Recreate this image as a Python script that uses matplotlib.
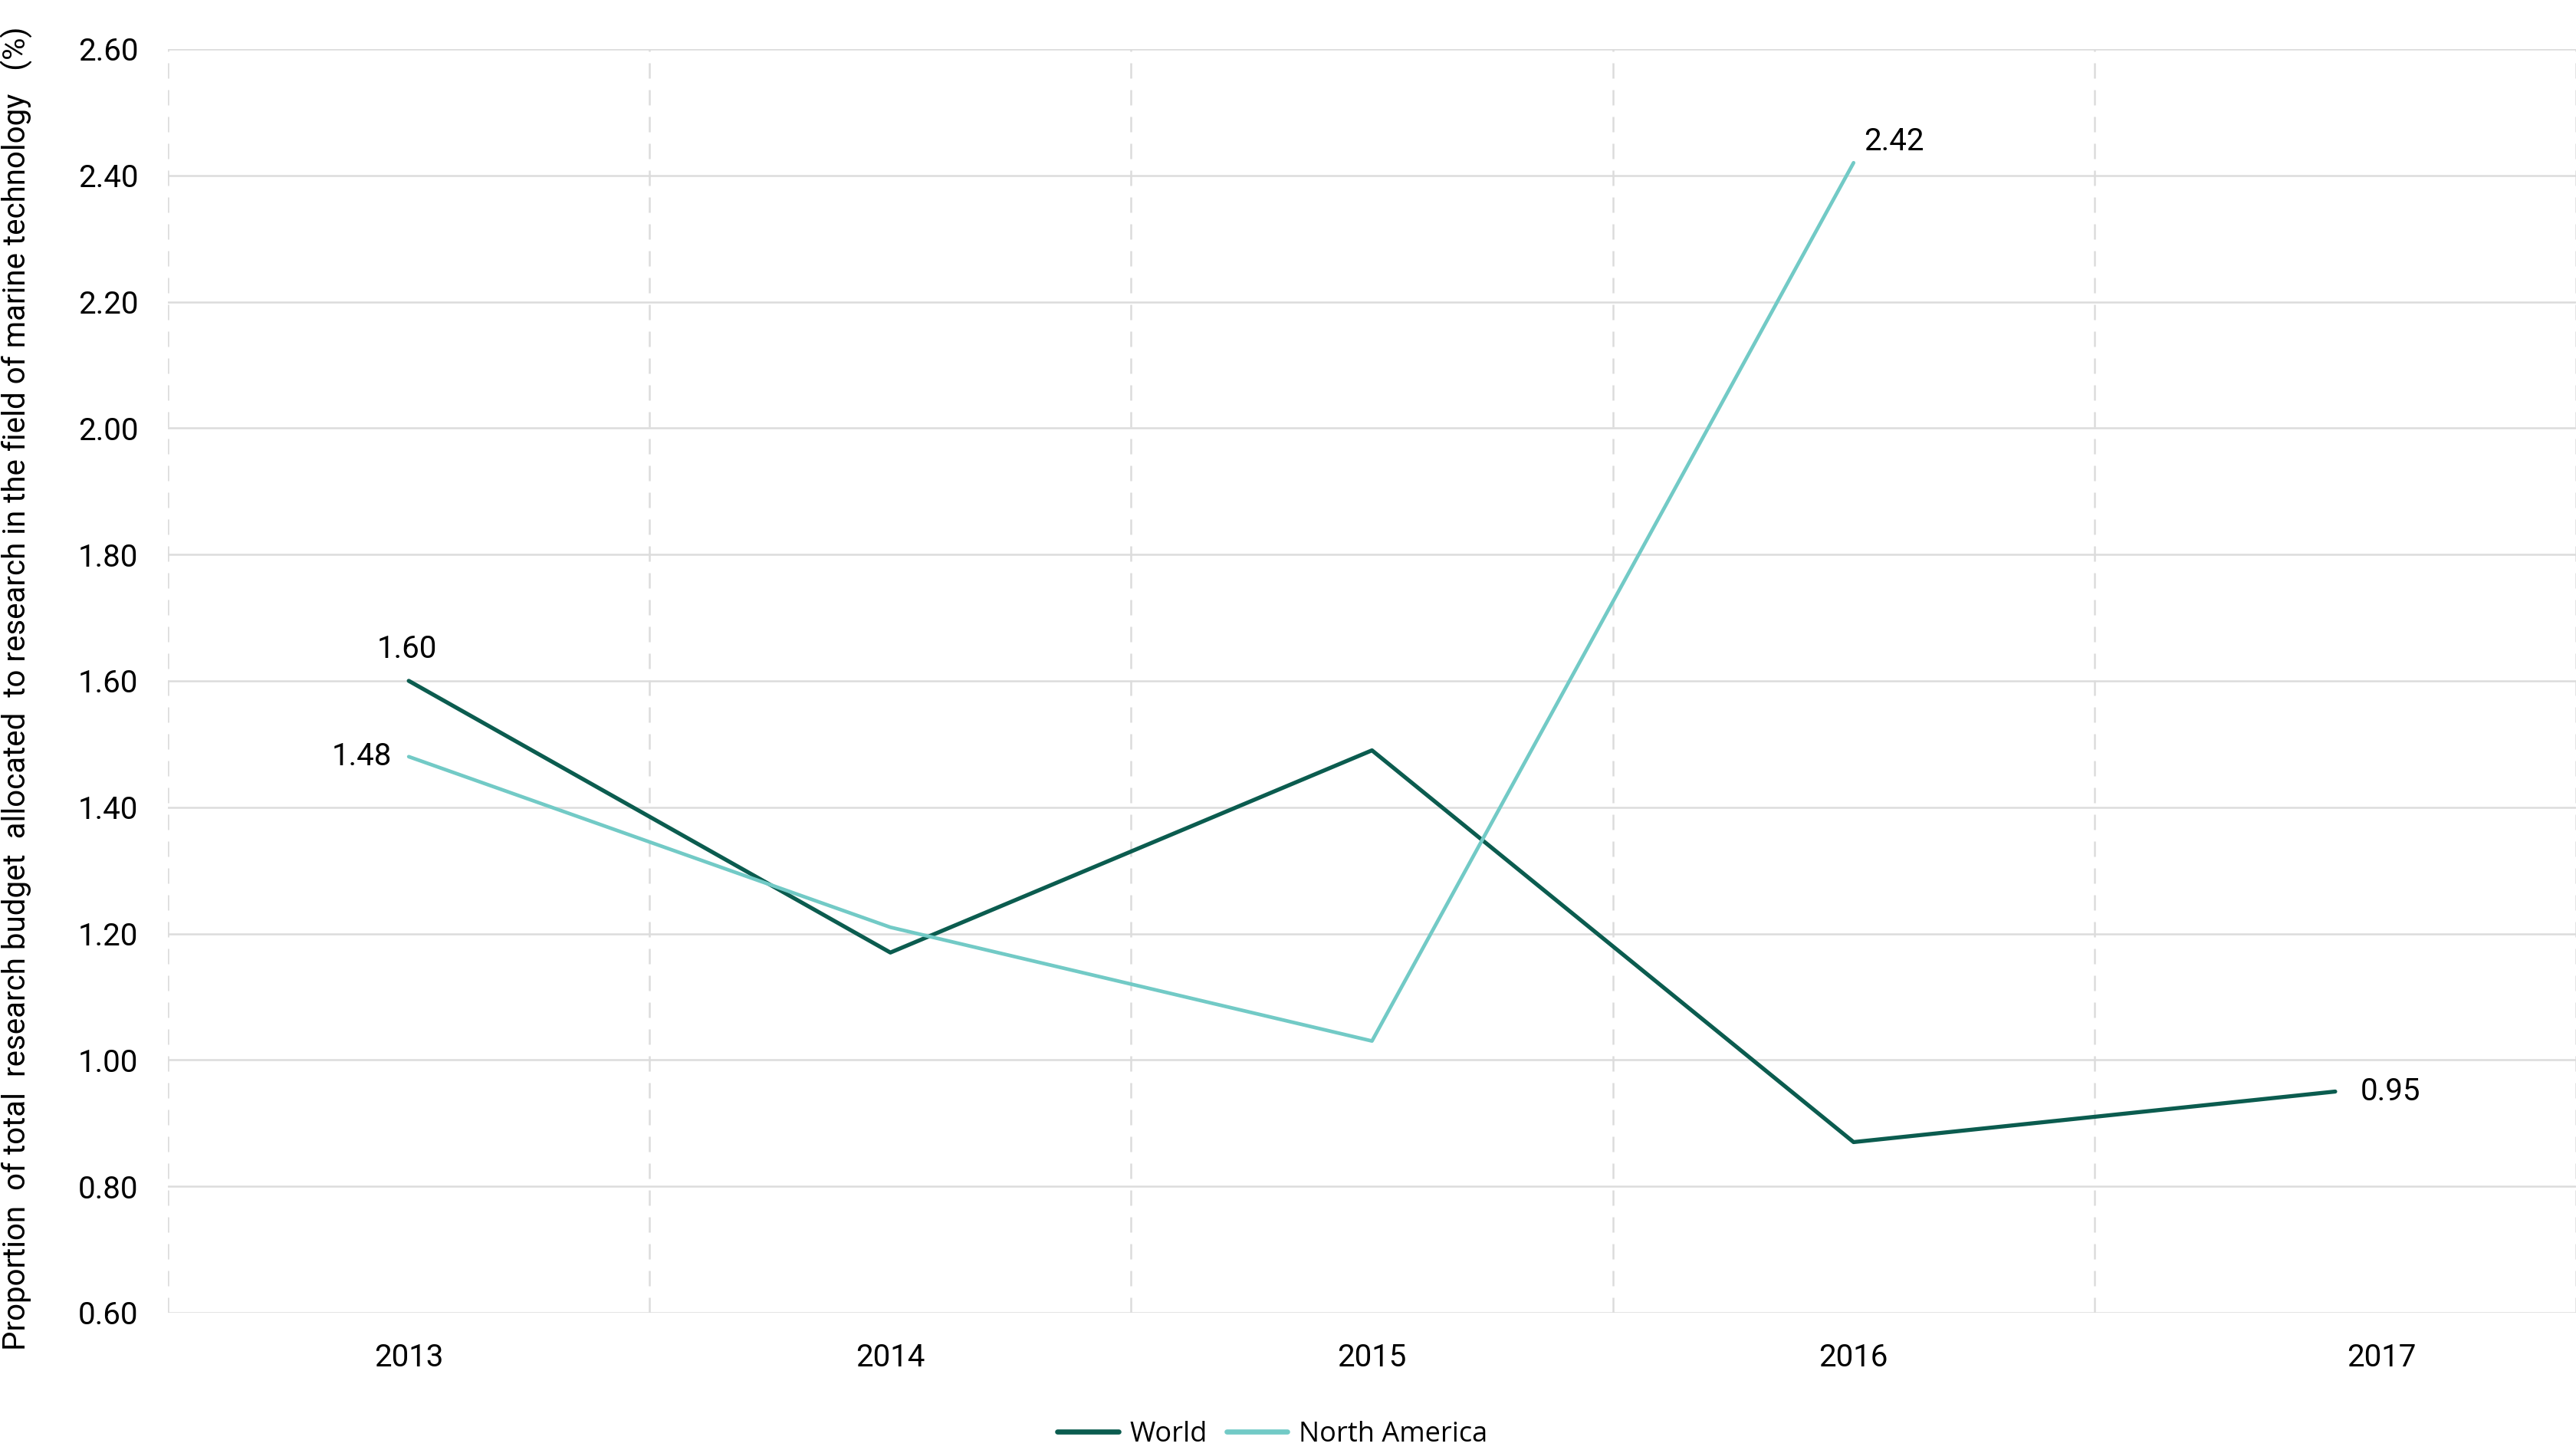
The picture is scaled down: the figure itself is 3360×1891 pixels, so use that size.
import numpy as np
import matplotlib.pyplot as plt
from matplotlib.transforms import ScaledTranslation

years = ['2013', '2014', '2015', '2016', '2017']
world = [1.60, 1.17, 1.49, 0.87, 0.95]
north_america = [1.48, 1.21, 1.03, 2.42, np.nan]
yticks = [0.60, 0.80, 1.00, 1.20, 1.40, 1.60, 1.80, 2.00, 2.20, 2.40, 2.60]

world_color = '#0b5c4f'
na_color = '#72cac6'
fs = 14.5

plt.rcParams['font.family'] = ['Roboto', 'DejaVu Sans']

fig = plt.figure(figsize=(16.8, 9.455), dpi=200)
ax = fig.add_axes([0.0652, 0.0947, 0.9348, 0.8715])

x = np.arange(len(years))
ax.plot(x, world, color=world_color, linewidth=1.9, label='World', solid_capstyle='round')
ax.plot(x, north_america, color=na_color, linewidth=1.7, label='North America', solid_capstyle='round')

# value labels on first / last points
ax.annotate('1.60', (0, world[0]), xytext=(-1, 8), textcoords='offset points',
            ha='center', va='bottom', fontsize=fs)
ax.annotate('1.48', (0, north_america[0]), xytext=(-8, 0), textcoords='offset points',
            ha='right', va='center', fontsize=fs)
ax.annotate('2.42', (3, north_america[3]), xytext=(5, 3), textcoords='offset points',
            ha='left', va='bottom', fontsize=fs)
ax.annotate('0.95', (4, world[4]), xytext=(12, 0), textcoords='offset points',
            ha='left', va='center', fontsize=fs)

ax.set_xlim(-0.5, 4.5)
ax.set_ylim(0.60, 2.60)
ax.set_yticks(yticks)
ax.set_yticklabels(['%.2f' % v for v in yticks])
ax.set_xticks(x)
ax.set_xticklabels(years)
ax.tick_params(axis='both', length=0, labelsize=fs)
ax.tick_params(axis='y', pad=14)
ax.tick_params(axis='x', pad=14)

# shift last year label like in the source
lbl = ax.get_xticklabels()[-1]
lbl.set_transform(lbl.get_transform() + ScaledTranslation(0.3, 0, fig.dpi_scale_trans))

ax.grid(axis='y', color='#dcdcdc', linewidth=0.9)
for b in np.arange(-0.5, 4.6, 1.0):
    ax.axvline(b, color='#dcdcdc', linewidth=0.9, linestyle=(0, (8, 6)), zorder=0)
for s in ax.spines.values():
    s.set_visible(False)
ax.set_axisbelow(True)

fig.text(0.0065, 0.525,
         'Proportion  of total  research budget  allocated  to research in the field of marine technology   (%)',
         rotation=90, ha='center', va='center', fontsize=fs)

leg = fig.legend(loc='lower center', bbox_to_anchor=(0.494, -0.016), ncol=2, frameon=False,
                 handlelength=2.2, handletextpad=0.4, columnspacing=0.7,
                 prop={'family': ['Open Sans', 'DejaVu Sans'], 'size': 13})
for h in leg.get_lines():
    h.set_linewidth(2.4)

fig.savefig('out.png', dpi=200)
